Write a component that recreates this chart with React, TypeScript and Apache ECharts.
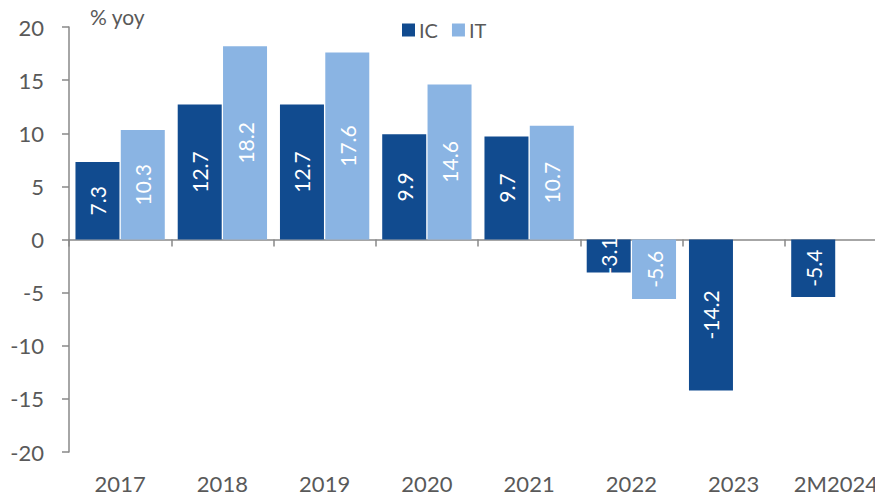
import React, { useEffect, useRef } from "react";
import * as echarts from "echarts";

const categories = ["2017", "2018", "2019", "2020", "2021", "2022", "2023", "2M2024"];
const icValues: (number | null)[] = [7.3, 12.7, 12.7, 9.9, 9.7, -3.1, -14.2, -5.4];
const itValues: (number | null)[] = [10.3, 18.2, 17.6, 14.6, 10.7, -5.6, null, null];
const seriesNames = ["IC", "IT"];
const yTicks = { min: -20, max: 20, interval: 5 };

const FONT = "Lato, 'Open Sans', sans-serif";
const TEXT = "#595959";
const AXIS = "#898989";

export default function App() {
  const ref = useRef<HTMLDivElement>(null);
  useEffect(() => {
    if (!ref.current) return;
    const chart = echarts.init(ref.current, undefined, { renderer: "svg" });
    const label = {
      show: true,
      position: "inside",
      rotate: 90,
      color: "#ffffff",
      fontSize: 21,
      fontFamily: FONT,
      formatter: (p: any) => p.value.toFixed(1),
    };
    chart.setOption({
      animation: false,
      textStyle: { fontFamily: FONT },
      grid: { left: 69, top: 27, bottom: 46, width: 818, outerBoundsMode: "none", containLabel: false },
      legend: {
        left: 397,
        top: 15,
        itemWidth: 13,
        itemHeight: 13,
        itemGap: 14,
        icon: "rect",
        textStyle: { fontSize: 20, color: TEXT, fontFamily: FONT, padding: [0, 0, 0, -1] },
        data: seriesNames,
      },
      graphic: [
        {
          type: "text",
          left: 90,
          top: 6,
          style: { text: "% yoy", fontSize: 21, fill: TEXT, fontFamily: FONT },
        },
      ],
      xAxis: [
        {
          type: "category",
          data: categories,
          position: "bottom",
          axisLine: { show: false, onZero: false },
          axisTick: { show: false },
          axisLabel: { interval: 0, fontSize: 22, lineHeight: 22, color: TEXT, margin: 20, fontFamily: FONT },
        },
        {
          type: "category",
          data: categories,
          position: "bottom",
          axisLine: { show: true, onZero: true, lineStyle: { color: AXIS, width: 1.5 } },
          axisTick: { show: true, interval: 0, length: 7, lineStyle: { color: AXIS, width: 1.5 } },
          axisLabel: { show: false },
        },
      ],
      yAxis: {
        type: "value",
        min: yTicks.min,
        max: yTicks.max,
        interval: yTicks.interval,
        splitLine: { show: false },
        axisLine: { show: true, lineStyle: { color: AXIS, width: 1.5 } },
        axisTick: { show: true, length: 7, lineStyle: { color: AXIS, width: 1.5 } },
        axisLabel: { fontSize: 22, color: TEXT, margin: 25, fontFamily: FONT },
      },
      series: [
        {
          name: seriesNames[0],
          type: "bar",
          data: icValues,
          barWidth: 44,
          barGap: "3%",
          itemStyle: { color: "#114B8F" },
          label,
        },
        {
          name: seriesNames[1],
          type: "bar",
          data: itValues,
          barWidth: 44,
          barGap: "3%",
          itemStyle: { color: "#8AB4E3" },
          label,
        },
      ],
    });
    return () => chart.dispose();
  }, []);
  return <div ref={ref} style={{ width: 875, height: 498, position: "absolute", left: 0, top: 0 }} />;
}
